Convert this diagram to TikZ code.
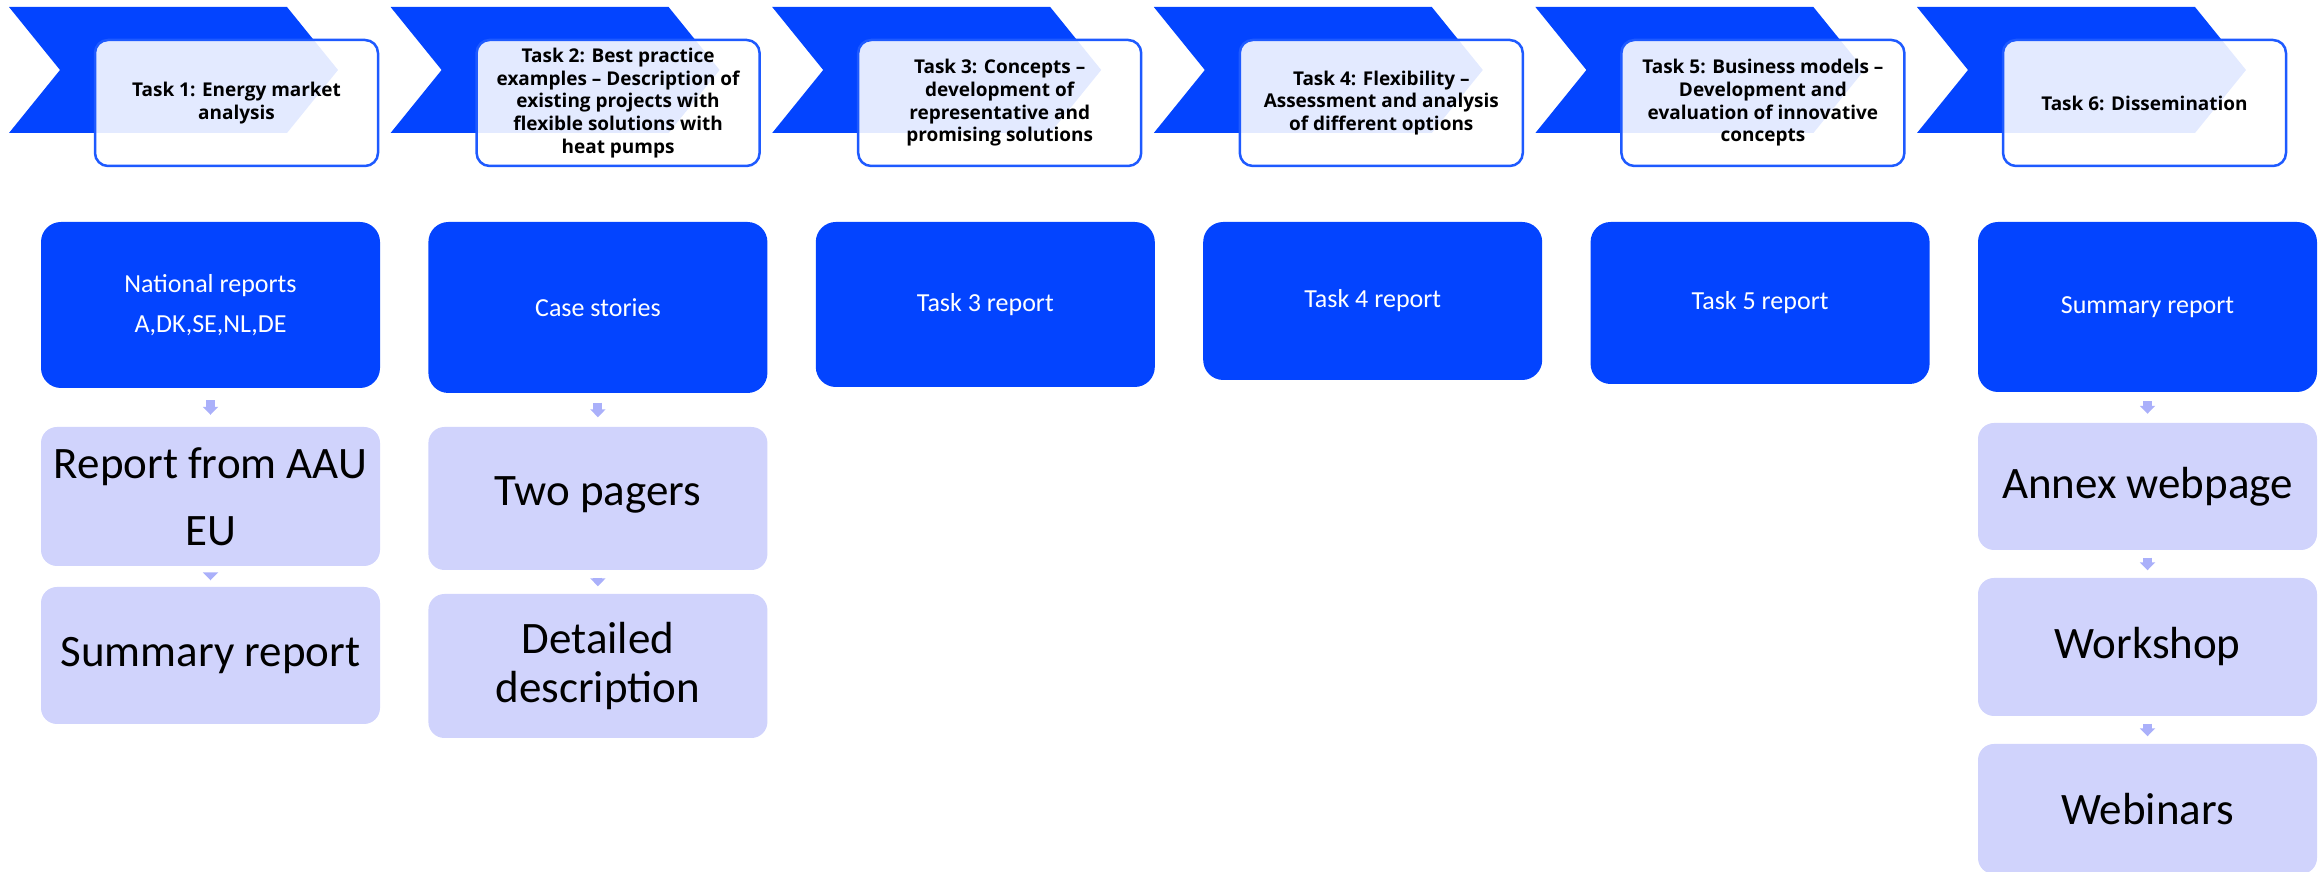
\documentclass[tikz,border=0pt]{standalone}
\usepackage{fontspec}
\setmainfont{Carlito}
\newfontfamily\opensans{Open Sans}
\usetikzlibrary{arrows.meta}
\definecolor{taskblue}{RGB}{3,68,255}
\definecolor{boxline}{RGB}{30,90,255}
\definecolor{lavender}{RGB}{208,211,252}
\definecolor{arrowlav}{RGB}{170,176,250}
\tikzset{
  chevron/.style={fill=taskblue},
  taskbox/.style={draw=boxline, line width=0.25mm, fill=white, fill opacity=0.89, text opacity=1,
    rounded corners=1.3mm, minimum width=28.3mm, minimum height=12.6mm, inner sep=0pt,
    align=center, font=\opensans\bfseries\fontsize{5.4}{6.45}\selectfont},
  outbox/.style={fill=taskblue, rounded corners=2mm, minimum width=33.9mm, inner sep=0pt,
    text=white, align=center, font=\fontsize{7.4}{11.4}\selectfont},
  stepbox/.style={fill=lavender, rounded corners=1.6mm, minimum width=33.9mm, inner sep=0pt,
    align=center, font=\fontsize{12.8}{14.2}\selectfont},
  flow/.style={draw=arrowlav, line width=0.9mm, -{Triangle[width=1.5mm,length=0.8mm]},
    shorten <=#1, shorten >=#1}
}
\begin{document}
\begin{tikzpicture}[x=0.1mm, y=-0.1mm]
\useasboundingbox (0,0) rectangle (2318,872);
% task chevrons
\foreach \i in {0,...,5}
  \fill[chevron] ({9+381.6*\i},7) -- ++(278,0) -- ++(51,63) -- ++(-51,63) -- ++(-278,0) -- ++(51,-63) -- cycle;
% task labels
\node[taskbox] (T1) at (236.5,103) {Task 1: Energy market\\analysis};
\node[taskbox] (T2) at (618.1,103) {Task 2: Best practice\\examples – Description of\\existing projects with\\flexible solutions with\\heat pumps};
\node[taskbox] (T3) at (999.7,103) {Task 3: Concepts –\\development of\\representative and\\promising solutions};
\node[taskbox] (T4) at (1381.3,103) {Task 4: Flexibility –\\Assessment and analysis\\of different options};
\node[taskbox] (T5) at (1762.9,103) {Task 5: Business models –\\Development and\\evaluation of innovative\\concepts};
\node[taskbox] (T6) at (2144.5,103) {Task 6: Dissemination};
% deliverables
\node[outbox, minimum height=16.6mm] (NR) at (210.5,305) {National reports\\A,DK,SE,NL,DE};
\node[outbox, minimum height=17.1mm] (CS) at (597.9,307.5) {Case stories};
\node[outbox, minimum height=16.5mm] (R3) at (985.3,304.5) {Task 3 report};
\node[outbox, minimum height=15.8mm] (R4) at (1372.7,301) {Task 4 report};
\node[outbox, minimum height=16.2mm] (R5) at (1760.1,303) {Task 5 report};
\node[outbox, minimum height=17mm] (SR6) at (2147.5,307) {Summary report};
% follow-ups
\node[stepbox, minimum height=13.9mm] (AAU) at (210.5,496.5) {Report from AAU\\[5pt]EU};
\node[stepbox, minimum height=13.7mm] (SR1) at (210.5,655.5) {Summary report};
\node[stepbox, minimum height=14.3mm] (TP) at (597.9,498.5) {\raisebox{1.4mm}{Two pagers}};
\node[stepbox, minimum height=14.4mm] (DD) at (597.9,666) {Detailed\\description};
\node[stepbox, minimum height=12.7mm] (AW) at (2147.5,486.5) {Annex webpage};
\node[stepbox, minimum height=13.8mm] (WS) at (2147.5,647) {Workshop};
\node[stepbox, minimum height=13mm] (WB) at (2147.5,809) {Webinars};
\draw[flow=1.15mm] (NR) -- (AAU);
\draw[flow=0.6mm] (AAU) -- (SR1);
\draw[flow=0.9mm] (CS) -- (TP);
\draw[flow=0.7mm] (TP) -- (DD);
\draw[flow=0.85mm] (SR6) -- (AW);
\draw[flow=0.7mm] (AW) -- (WS);
\draw[flow=0.7mm] (WS) -- (WB);
\end{tikzpicture}
\end{document}
